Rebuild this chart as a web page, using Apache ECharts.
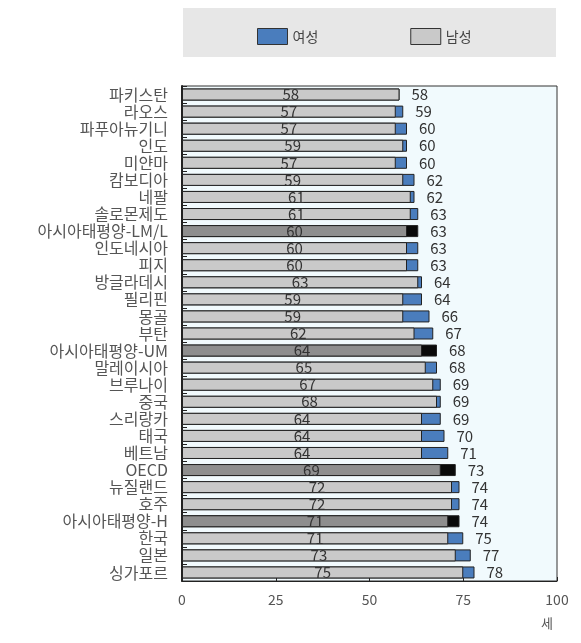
<!DOCTYPE html>
<html>
<head>
<meta charset="utf-8">
<script src="https://cdn.jsdelivr.net/npm/echarts@6/dist/echarts.min.js"></script>
<style>
  html, body { margin: 0; padding: 0; background: #ffffff; }
  #chart { width: 581px; height: 643px; }
</style>
</head>
<body>
<div id="chart"></div>
<script>
// Healthy life expectancy by country, years
const categories = [
  '파키스탄', '라오스', '파푸아뉴기니', '인도', '미얀마', '캄보디아', '네팔', '솔로몬제도',
  '아시아태평양-LM/L', '인도네시아', '피지', '방글라데시', '필리핀', '몽골', '부탄',
  '아시아태평양-UM', '말레이시아', '브루나이', '중국', '스리랑카', '태국', '베트남',
  'OECD', '뉴질랜드', '호주', '아시아태평양-H', '한국', '일본', '싱가포르'
];
const maleValues = [
  58, 57, 57, 59, 57, 59, 61, 61, 60, 60, 60, 63, 59, 59, 62,
  64, 65, 67, 68, 64, 64, 64, 69, 72, 72, 71, 71, 73, 75
];
const femaleValues = [
  58, 59, 60, 60, 60, 62, 62, 63, 63, 63, 63, 64, 64, 66, 67,
  68, 68, 69, 69, 69, 70, 71, 73, 74, 74, 74, 75, 77, 78
];
// Regional / OECD aggregates are drawn in darker tones
const aggregateRows = ['아시아태평양-LM/L', '아시아태평양-UM', 'OECD', '아시아태평양-H'];
const xTicks = [0, 25, 50, 75, 100];

const FEMALE = '#4a7dbd', FEMALE_AGG = '#0a0a0a';
const MALE = '#c9c9c9', MALE_AGG = '#8e8e8e';
const FONT = '"Noto Sans CJK KR", "Noto Sans", sans-serif';

const isAgg = i => aggregateRows.includes(categories[i]);

const chart = echarts.init(document.getElementById('chart'), null, { renderer: 'canvas' });
chart.setOption({
  animation: false,
  textStyle: { fontFamily: FONT },
  graphic: [
    { type: 'rect', shape: { x: 183, y: 8, width: 373, height: 49 },
      style: { fill: '#e7e7e7' }, z: -1 },
    { type: 'text', left: 541, top: 617,
      style: { text: '세', fontSize: 13, fill: '#555', fontFamily: FONT } }
  ],
  legend: {
    data: ['여성', '남성'],
    left: 252, top: 23, icon: 'rect',
    itemWidth: 30, itemHeight: 16, itemGap: 92,
    textStyle: { fontSize: 14, color: '#444', fontFamily: FONT },
    itemStyle: { borderColor: '#333', borderWidth: 1 }
  },
  grid: {
    left: 182, right: 24, top: 86, bottom: 62,
    show: true, backgroundColor: '#f1fafd', borderColor: '#333', borderWidth: 1
  },
  xAxis: {
    type: 'value', min: xTicks[0], max: xTicks[xTicks.length - 1], interval: 25,
    axisLine: { show: true, lineStyle: { color: '#222' } },
    axisTick: { show: true, inside: true, length: 4, lineStyle: { color: '#222' } },
    splitLine: { show: false },
    axisLabel: { fontSize: 14, color: '#555', margin: 12, fontFamily: FONT }
  },
  yAxis: {
    type: 'category', data: categories, inverse: true,
    axisLine: { show: true, lineStyle: { color: '#222', width: 2 } },
    axisTick: { show: true, inside: true, length: 5, lineStyle: { color: '#222' } },
    axisLabel: {
      interval: 0, fontSize: 16, color: '#555', margin: 14,
      fontFamily: FONT, lineHeight: 16
    }
  },
  series: [
    {
      name: '여성', type: 'bar', barWidth: 12, barGap: '-100%',
      itemStyle: { color: FEMALE, borderColor: '#222', borderWidth: 1 },
      data: femaleValues.map((v, i) => ({
        value: v,
        itemStyle: { color: isAgg(i) ? FEMALE_AGG : FEMALE }
      })),
      label: {
        show: true, position: 'right', distance: 12,
        fontSize: 15, color: '#333', fontFamily: FONT
      },
      z: 2
    },
    {
      name: '남성', type: 'bar', barWidth: 12, barGap: '-100%',
      itemStyle: { color: MALE, borderColor: '#222', borderWidth: 1 },
      data: maleValues.map((v, i) => ({
        value: v,
        itemStyle: { color: isAgg(i) ? MALE_AGG : MALE }
      })),
      label: {
        show: true, position: 'inside',
        fontSize: 15, color: '#333', fontFamily: FONT
      },
      z: 3
    }
  ]
});
</script>
</body>
</html>
